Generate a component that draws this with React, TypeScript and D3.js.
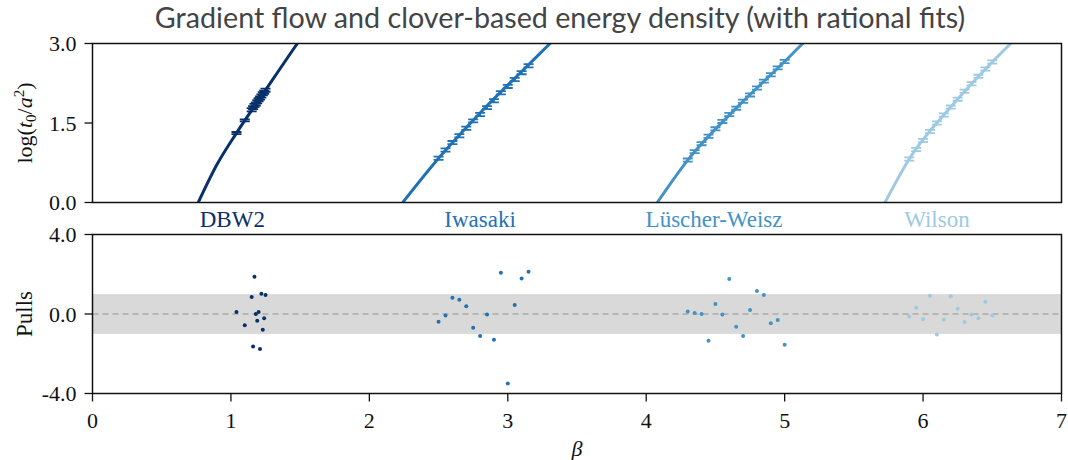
import React from "react";
import * as d3 from "d3";

// ---------------- data ----------------
const actions = ["DBW2", "Iwasaki", "Lüscher-Weisz", "Wilson"];
const colors = ["#08306b", "#2171b5", "#4292c6", "#9ecae1"];
const labelBeta = [1.01, 2.8, 4.49, 6.1];

const betaDBW2 = [1.04, 1.1, 1.15, 1.16, 1.17, 1.18, 1.19, 1.2, 1.21, 1.22, 1.23, 1.24, 1.25];
const logDBW2 = [1.31, 1.55, 1.75, 1.79, 1.83, 1.86, 1.9, 1.94, 1.97, 2.01, 2.05, 2.08, 2.12];
const errDBW2 = [0.02, 0.02, 0.03, 0.03, 0.03, 0.03, 0.03, 0.03, 0.03, 0.03, 0.03, 0.03, 0.03];
const pullDBW2 = [0.1, -0.57, 0.86, -1.63, 1.88, 0.0, -0.34, 0.1, -1.76, 1.02, -0.79, -0.22, 0.96];
const fitBetaDBW2 = [0.764, 0.9, 1.04, 1.25, 1.48, 1.52];
const fitLogDBW2 = [0, 0.72, 1.31, 2.12, 3.0, 3.15];

const betaIwasaki = [2.5, 2.55, 2.6, 2.65, 2.7, 2.75, 2.8, 2.85, 2.9, 2.95, 3.0, 3.05, 3.1, 3.15];
const logIwasaki = [0.835, 0.99, 1.13, 1.26, 1.4, 1.54, 1.66, 1.79, 1.92, 2.07, 2.19, 2.32, 2.45, 2.58];
const errIwasaki = [0.03, 0.03, 0.03, 0.03, 0.03, 0.03, 0.03, 0.03, 0.03, 0.03, 0.03, 0.03, 0.03, 0.03];
const pullIwasaki = [-0.39, -0.08, 0.82, 0.72, 0.39, -0.69, -1.11, -0.02, -1.29, 2.07, -3.5, 0.45, 1.78, 2.13];
const fitBetaIwasaki = [2.241, 2.5, 2.8, 3.15, 3.305, 3.35];
const fitLogIwasaki = [0, 0.835, 1.69, 2.6, 3.0, 3.12];

const betaLW = [4.3, 4.35, 4.4, 4.45, 4.5, 4.55, 4.6, 4.65, 4.7, 4.75, 4.8, 4.85, 4.9, 4.95, 5.0];
const logLW = [0.8, 0.96, 1.11, 1.25, 1.39, 1.53, 1.66, 1.78, 1.91, 2.03, 2.16, 2.29, 2.41, 2.54, 2.66];
const errLW = [0.03, 0.03, 0.03, 0.03, 0.03, 0.03, 0.03, 0.03, 0.03, 0.03, 0.03, 0.03, 0.03, 0.03, 0.03];
const pullLW = [0.13, 0.05, 0.0, -1.34, 0.5, -0.02, 1.76, -0.64, -1.11, 0.2, 1.16, 0.96, -0.47, -0.3, -1.55];
const fitBetaLW = [4.08, 4.3, 4.65, 5.0, 5.131, 5.18];
const fitLogLW = [0, 0.8, 1.78, 2.66, 3.0, 3.12];

const betaWilson = [5.9, 5.95, 6.0, 6.05, 6.1, 6.15, 6.2, 6.25, 6.3, 6.35, 6.4, 6.45, 6.5];
const logWilson = [0.82, 1.0, 1.17, 1.34, 1.5, 1.65, 1.8, 1.95, 2.1, 2.24, 2.38, 2.52, 2.65];
const errWilson = [0.03, 0.03, 0.03, 0.03, 0.03, 0.03, 0.03, 0.03, 0.03, 0.03, 0.03, 0.03, 0.03];
const pullWilson = [-0.13, 0.32, -0.27, 0.92, -1.03, -0.29, 0.89, 0.27, -0.4, -0.03, -0.22, 0.62, -0.07];
const fitBetaWilson = [5.725, 5.9, 6.2, 6.5, 6.633, 6.68];
const fitLogWilson = [0, 0.82, 1.8, 2.65, 3.0, 3.12];

const xTicks = [0, 1, 2, 3, 4, 5, 6, 7];
const topTicks = [0, 1.5, 3.0];
const bottomTicks = [-4, 0, 4];

const titleText = "Gradient flow and clover-based energy density (with rational fits)";

// ---------------- layout ----------------
const W = 1068;
const H = 460;
const left = 92.5;
const right = 1061.5;
const topY0 = 43.5;
const topY1 = 202.5;
const botY0 = 234.5;
const botY1 = 393.5;

const serif = "'Liberation Serif', serif";
const fs = 22;

export default function App() {
  const x = d3.scaleLinear().domain([0, 7]).range([left, right]);
  const yTop = d3.scaleLinear().domain([0, 3]).range([topY1, topY0]);
  const yBot = d3.scaleLinear().domain([-4, 4]).range([botY1, botY0]);

  const series = [
    { beta: betaDBW2, log: logDBW2, err: errDBW2, pull: pullDBW2, fb: fitBetaDBW2, fl: fitLogDBW2 },
    { beta: betaIwasaki, log: logIwasaki, err: errIwasaki, pull: pullIwasaki, fb: fitBetaIwasaki, fl: fitLogIwasaki },
    { beta: betaLW, log: logLW, err: errLW, pull: pullLW, fb: fitBetaLW, fl: fitLogLW },
    { beta: betaWilson, log: logWilson, err: errWilson, pull: pullWilson, fb: fitBetaWilson, fl: fitLogWilson },
  ];

  const line = d3
    .line<[number, number]>()
    .x((d) => x(d[0]))
    .y((d) => yTop(d[1]))
    .curve(d3.curveMonotoneX);

  const fmt = (v: number) => d3.format(".1f")(v).replace("\u2212", "-");
  const capHalf = 5;

  return (
    <div>
      <style>{`body{margin:0;}`}</style>
      <svg width={W} height={H} style={{ display: "block", background: "#fff" }}>
        <defs>
          <clipPath id="topclip">
            <rect x={left} y={topY0} width={right - left} height={topY1 - topY0} />
          </clipPath>
        </defs>

        <text
          x={560}
          y={28}
          textAnchor="middle"
          fontFamily="Lato, 'Open Sans', sans-serif"
          fontSize={28.7}
          fill="#444"
        >
          {titleText}
        </text>

        {/* ---- top panel ---- */}
        <g clipPath="url(#topclip)">
          {series.map((s, i) => (
            <path
              key={"fit" + i}
              d={line(s.fb.map((b, j) => [b, s.fl[j]] as [number, number])) || ""}
              fill="none"
              stroke={colors[i]}
              strokeWidth={3}
            />
          ))}
          {series.map((s, i) =>
            s.beta.map((b, j) => {
              const cx = x(b);
              const y1 = yTop(s.log[j] + s.err[j]);
              const y2 = yTop(s.log[j] - s.err[j]);
              return (
                <g key={"eb" + i + "-" + j} stroke={colors[i]} strokeWidth={1.8}>
                  <line x1={cx} x2={cx} y1={y1} y2={y2} />
                  <line x1={cx - capHalf} x2={cx + capHalf} y1={y1} y2={y1} />
                  <line x1={cx - capHalf} x2={cx + capHalf} y1={y2} y2={y2} />
                </g>
              );
            })
          )}
        </g>
        <rect x={left} y={topY0} width={right - left} height={topY1 - topY0} fill="none" stroke="#111" strokeWidth={1.5} />
        {topTicks.map((t) => (
          <g key={"tt" + t}>
            <line x1={left - 8} x2={left} y1={yTop(t)} y2={yTop(t)} stroke="#111" strokeWidth={1.3} />
            <text x={left - 16} y={yTop(t)} dy="0.35em" textAnchor="end" fontFamily={serif} fontSize={fs} fill="#111">
              {fmt(t)}
            </text>
          </g>
        ))}
        <text
          transform={`translate(32, ${(topY0 + topY1) / 2}) rotate(-90)`}
          textAnchor="middle"
          fontFamily={serif}
          fontSize={fs}
          fill="#111"
        >
          <tspan>log(</tspan>
          <tspan fontStyle="italic">t</tspan>
          <tspan fontSize={15} dy={4}>0</tspan>
          <tspan dy={-4}>/</tspan>
          <tspan fontStyle="italic">a</tspan>
          <tspan fontSize={15} dy={-8}>2</tspan>
          <tspan dy={8}>)</tspan>
        </text>

        {/* ---- action labels ---- */}
        {actions.map((a, i) => (
          <text
            key={"lab" + a}
            x={x(labelBeta[i])}
            y={227}
            textAnchor="middle"
            fontFamily={serif}
            fontSize={23}
            fill={colors[i]}
          >
            {a}
          </text>
        ))}

        {/* ---- bottom panel ---- */}
        <rect x={left} y={yBot(1)} width={right - left} height={yBot(-1) - yBot(1)} fill="#d9d9d9" />
        <line x1={left} x2={right} y1={yBot(0)} y2={yBot(0)} stroke="#aaaaaa" strokeWidth={1.5} strokeDasharray="6,4" />
        {series.map((s, i) =>
          s.beta.map((b, j) => (
            <circle key={"p" + i + "-" + j} cx={x(b)} cy={yBot(s.pull[j])} r={2} fill={colors[i]} />
          ))
        )}
        <rect x={left} y={botY0} width={right - left} height={botY1 - botY0} fill="none" stroke="#111" strokeWidth={1.5} />
        {bottomTicks.map((t) => (
          <g key={"bt" + t}>
            <line x1={left - 8} x2={left} y1={yBot(t)} y2={yBot(t)} stroke="#111" strokeWidth={1.3} />
            <text x={left - 16} y={yBot(t)} dy="0.35em" textAnchor="end" fontFamily={serif} fontSize={fs} fill="#111">
              {fmt(t)}
            </text>
          </g>
        ))}
        <text
          transform={`translate(32, ${(botY0 + botY1) / 2}) rotate(-90)`}
          textAnchor="middle"
          fontFamily={serif}
          fontSize={23}
          fill="#111"
        >
          Pulls
        </text>
        {xTicks.map((t) => (
          <g key={"xt" + t}>
            <line x1={x(t)} x2={x(t)} y1={botY1} y2={botY1 + 8} stroke="#111" strokeWidth={1.3} />
            <text x={x(t)} y={428} textAnchor="middle" fontFamily={serif} fontSize={fs} fill="#111">
              {t}
            </text>
          </g>
        ))}
        <text x={(left + right) / 2} y={456} textAnchor="middle" fontFamily={serif} fontStyle="italic" fontSize={fs} fill="#111">
          β
        </text>
      </svg>
    </div>
  );
}
